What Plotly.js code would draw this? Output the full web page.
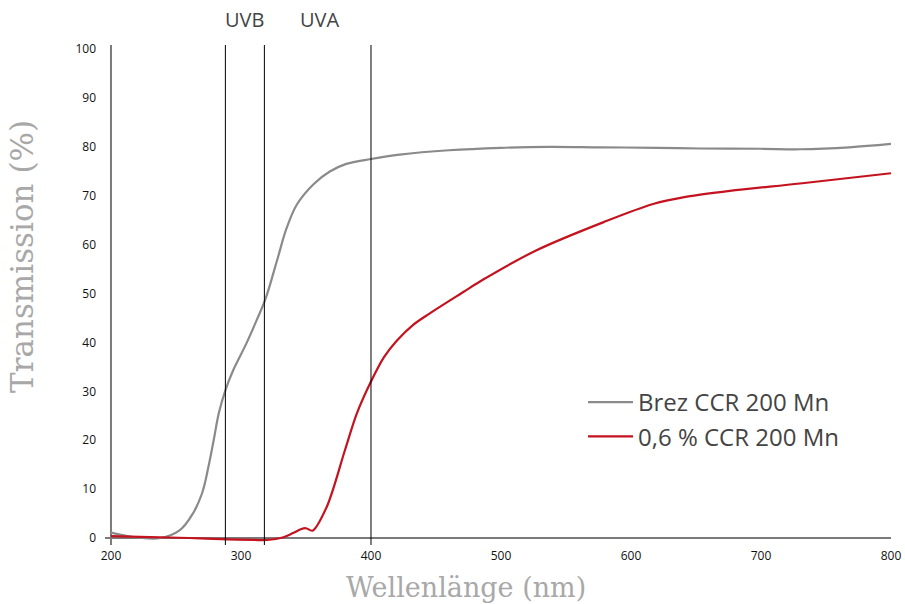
<!DOCTYPE html>
<html>
<head>
<meta charset="utf-8">
<script src="https://cdn.plot.ly/plotly-3.0.1.min.js"></script>
<style>html,body{margin:0;padding:0;background:#fff;}#chart{width:905px;height:604px;}</style>
</head>
<body>
<div id="chart"></div>
<script>
// Data
const seriesNames = ["Brez CCR 200 Mn", "0,6 % CCR 200 Mn"];
const waveBrez = [200,217,238,253,263,270,275,279,283,288,294,304,312,319,328,335,343,356,368,381,400,422,460,500,537,576,620,653,700,730,768,800];
const transBrez = [1.1,0.2,0.0,1.6,5.0,9.1,14.6,20.0,25.6,30.2,34.3,39.7,44.5,49.0,57.0,63.3,68.2,72.4,74.9,76.5,77.5,78.4,79.3,79.8,80.0,79.9,79.8,79.65,79.6,79.5,79.9,80.6];
const waveCCR = [200,230,260,290,310,320,332,340,346,350,355,366,380,389,400,410,420,432,445,471,486,527,579,617,643,676,730,800];
const transCCR = [0.4,0.2,0.0,-0.3,-0.4,-0.4,0.1,1.0,1.8,2.0,1.5,6.4,18.0,25.4,32.0,37.0,40.4,43.5,45.9,50.3,52.8,58.8,64.6,68.3,69.8,71.0,72.5,74.6];
const bandLines = [288, 318, 400];
const bandLabels = ["UVB", "UVA"];
const bandLabelPos = [303, 361];
const xTicks = [200,300,400,500,600,700,800];
const yTicks = [0,10,20,30,40,50,60,70,80,90,100];

const xMin = 195.4, xMax = 800, yMin = -1.43, yMax = 100.82;

const traces = [
  {x: waveBrez, y: transBrez, name: seriesNames[0], mode: "lines",
   line: {color: "#8a8a8a", width: 2.2, shape: "spline", smoothing: 1}},
  {x: waveCCR, y: transCCR, name: seriesNames[1], mode: "lines",
   line: {color: "#c4121f", width: 2.2, shape: "spline", smoothing: 0.9}}
];

const shapes = [];
bandLines.forEach(v => shapes.push({type: "line", xref: "x", yref: "y", x0: v, x1: v, y0: yMin, y1: yMax,
  line: {color: "#000", width: 1}}));
shapes.push({type: "line", xref: "x", yref: "y", x0: 200, x1: 200, y0: yMin, y1: yMax, line: {color: "#7a7a7a", width: 2}, layer: "below"});
shapes.push({type: "line", xref: "x", yref: "y", x0: xMin, x1: xMax, y0: 0, y1: 0, line: {color: "#7a7a7a", width: 2}, layer: "below"});

const annotations = [];
bandLabels.forEach((t, i) => annotations.push({text: t, x: bandLabelPos[i], xref: "x", y: 1 + (45 - 20) / 500, yref: "paper",
  yanchor: "middle", showarrow: false, font: {family: "Open Sans, Noto Sans, sans-serif", size: 20, color: "#444"}}));
annotations.push({text: "Wellenlänge (nm)", xref: "paper", yref: "paper", x: (466 - 105) / 786, y: -(587 - 545) / 500,
  yanchor: "middle", showarrow: false, font: {family: "DejaVu Serif, serif", size: 27, color: "#a8a8a8"}});
annotations.push({text: "Transmission (%)", xref: "paper", yref: "paper", x: -(105 - 22) / 786, y: (545 - 257) / 500,
  xanchor: "center", yanchor: "middle", textangle: -90, showarrow: false,
  font: {family: "DejaVu Serif, serif", size: 31, color: "#a8a8a8"}});

const layout = {
  width: 905, height: 604,
  margin: {l: 105, r: 14, t: 45, b: 59},
  paper_bgcolor: "#fff", plot_bgcolor: "#fff",
  showlegend: true,
  legend: {x: (583 - 105) / 786, y: (545 - 380) / 500, xanchor: "left", yanchor: "top",
    bgcolor: "rgba(0,0,0,0)", itemwidth: 45,
    font: {family: "Open Sans, Noto Sans, sans-serif", size: 24, color: "#444"}},
  xaxis: {range: [xMin, xMax], tickvals: xTicks, ticktext: xTicks.map(String), showgrid: false, zeroline: false,
    showline: false, ticks: "", ticklabelstandoff: 2, tickfont: {family: "Open Sans, Noto Sans, sans-serif", size: 12, color: "#111"}},
  yaxis: {range: [yMin, yMax], tickvals: yTicks, ticktext: yTicks.map(String), showgrid: false, zeroline: false,
    showline: false, ticks: "", ticklabelstandoff: 8, tickfont: {family: "Open Sans, Noto Sans, sans-serif", size: 12, color: "#111"}},
  shapes: shapes,
  annotations: annotations
};

Plotly.newPlot("chart", traces, layout, {displayModeBar: false, staticPlot: true});
</script>
</body>
</html>
